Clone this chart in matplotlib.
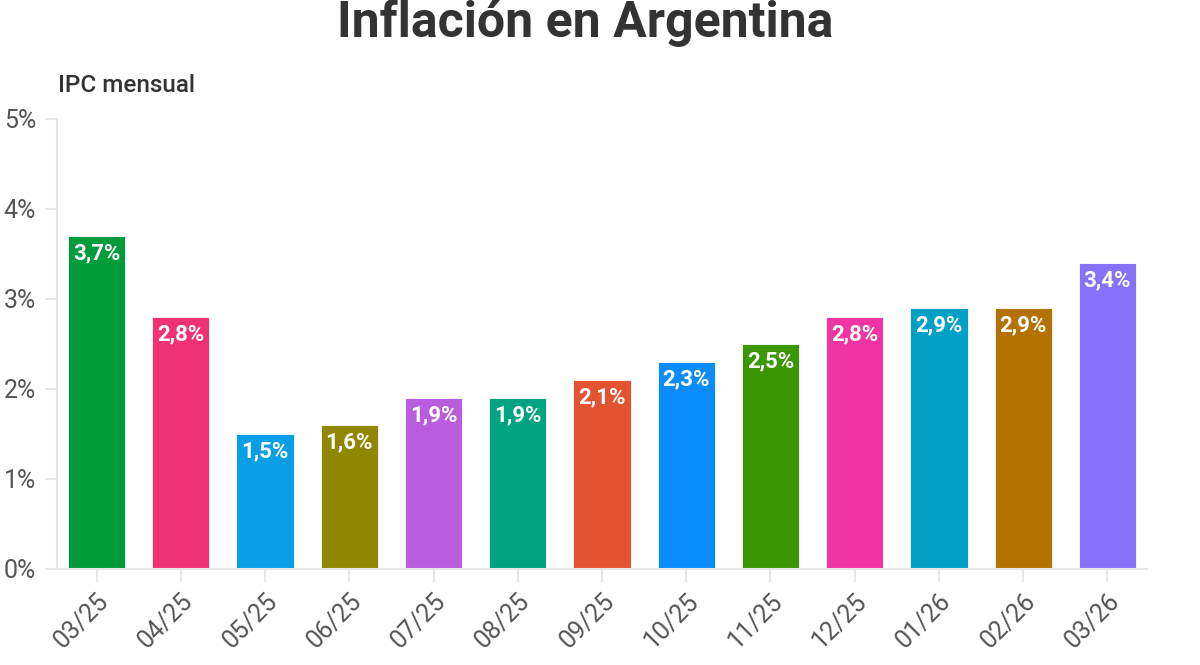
"""Inflación mensual en Argentina (IPC), barras por mes."""

import matplotlib
matplotlib.use("Agg")
import matplotlib.pyplot as plt

months = ["03/25", "04/25", "05/25", "06/25", "07/25", "08/25", "09/25",
          "10/25", "11/25", "12/25", "01/26", "02/26", "03/26"]
ipc = [3.7, 2.8, 1.5, 1.6, 1.9, 1.9, 2.1, 2.3, 2.5, 2.8, 2.9, 2.9, 3.4]
colors = ["#009B3A", "#F03275", "#0A9EE6", "#908600", "#B95DDE", "#00A37F",
          "#E25331", "#0A8CFF", "#3A9601", "#EE35A1", "#00A0C6", "#B37200",
          "#8771F8"]
yticks = [0, 1, 2, 3, 4, 5]

plt.rcParams["font.family"] = ["Roboto", "DejaVu Sans"]

fig = plt.figure(figsize=(12, 6.65), dpi=100)
ax = fig.add_axes([57 / 1200, 1 - 569 / 665, 1090 / 1200, 450 / 665])

x = range(len(months))
ax.bar(x, ipc, width=0.68, color=colors, edgecolor="white", linewidth=0.6)

for i, v in enumerate(ipc):
    ax.text(i, v - 0.19, f"{v:.1f}%".replace(".", ","), ha="center", va="center",
            color="white", fontsize=16, fontweight="bold")

ax.set_xlim(-0.47, len(months) - 0.53)
ax.set_ylim(0, 5)
ax.set_yticks(yticks)
ax.set_yticklabels([f"{t}%" for t in yticks])
ax.set_xticks(list(x))
ax.set_xticklabels(months, rotation=45, ha="right", rotation_mode="anchor")

for s in ["top", "right"]:
    ax.spines[s].set_visible(False)
for s in ["left", "bottom"]:
    ax.spines[s].set_color("#e6e6e6")
    ax.spines[s].set_linewidth(1.5)
ax.tick_params(axis="both", colors="#e6e6e6", length=9, width=1.5,
               labelcolor="#555555", labelsize=18)
ax.tick_params(axis="y", pad=6)
ax.tick_params(axis="x", pad=5)

fig.text(585 / 1200, 0.966, "Inflación en Argentina", ha="center", va="center",
         fontsize=36, fontweight="bold", color="#333333")
fig.text(58 / 1200, 1 - 86 / 665, "IPC mensual", ha="left", va="center",
         fontsize=17.5, fontweight="medium", color="#333333")

fig.savefig("out.png", dpi=100)
